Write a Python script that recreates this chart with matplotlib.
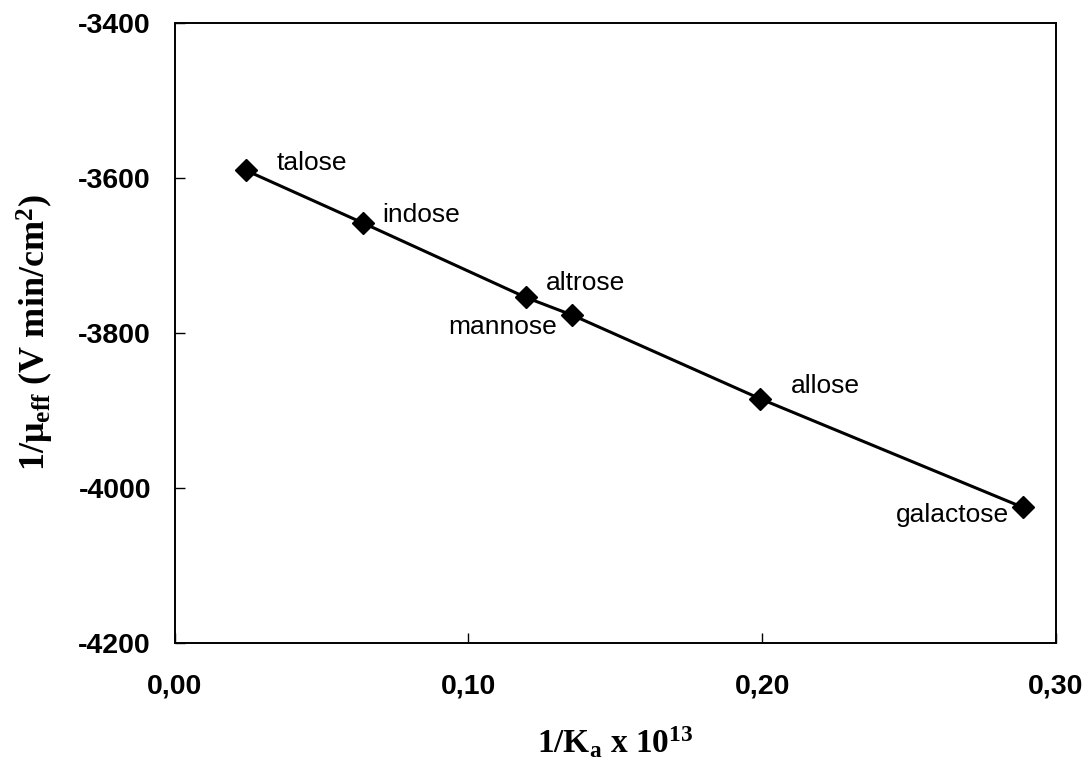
import numpy as np
import matplotlib
matplotlib.use('Agg')
import matplotlib.pyplot as plt
from matplotlib.ticker import FixedLocator, FuncFormatter

# data
sugars = ['talose', 'indose', 'altrose', 'mannose', 'allose', 'galactose']
inv_ka = [0.0242, 0.0641, 0.1195, 0.1354, 0.1994, 0.2887]
inv_mu = [-3590, -3658, -3754, -3777, -3885, -4025]
xticks = [0.0, 0.1, 0.2, 0.3]
yticks = [-4200, -4000, -3800, -3600, -3400]

# label offsets in pixels (dx, dy, ha)
offsets = [(31, 7, 'left'), (19, 8, 'left'), (20, 14, 'left'),
           (-15, -12, 'right'), (30, 13, 'left'), (-14, -8, 'right')]

plt.rcParams['mathtext.default'] = 'regular'

fig = plt.figure(figsize=(10.86, 7.67), dpi=100)
ax = fig.add_axes([0.1607, 0.1617, 0.8117, 0.8083])

ax.plot(inv_ka, inv_mu, color='black', lw=2.2, marker='D', ms=11,
        markerfacecolor='black', markeredgecolor='black')

for name, x, y, (dx, dy, ha) in zip(sugars, inv_ka, inv_mu, offsets):
    ax.annotate(name, (x, y), xytext=(dx, dy), textcoords='offset pixels',
                ha=ha, va='center', fontsize=19, family='Liberation Sans')

ax.set_xlim(0, 0.3)
ax.set_ylim(-4200, -3400)
ax.xaxis.set_major_locator(FixedLocator(xticks))
ax.yaxis.set_major_locator(FixedLocator(yticks))
ax.xaxis.set_major_formatter(FuncFormatter(lambda v, p: ('%.2f' % v).replace('.', ',')))
ax.yaxis.set_major_formatter(FuncFormatter(lambda v, p: '%d' % v))
ax.tick_params(direction='in', length=7, width=1, top=False, right=False)
for lab in ax.get_xticklabels() + ax.get_yticklabels():
    lab.set_fontfamily('Liberation Sans')
    lab.set_fontweight('bold')
    lab.set_fontsize(20.5)
ax.tick_params(axis='y', pad=17)
ax.tick_params(axis='x', pad=22)

for sp in ax.spines.values():
    sp.set_linewidth(1.4)

ax.set_xlabel(r'1/K$_{a}$ x 10$^{13}$', family='Liberation Serif',
              fontweight='bold', fontsize=24, labelpad=18)
ax.set_ylabel(r'1/μ$_{eff}$ (V min/cm$^{2}$)', family='Liberation Serif',
              fontweight='bold', fontsize=26, labelpad=16)

fig.savefig('out.png', dpi=100)
